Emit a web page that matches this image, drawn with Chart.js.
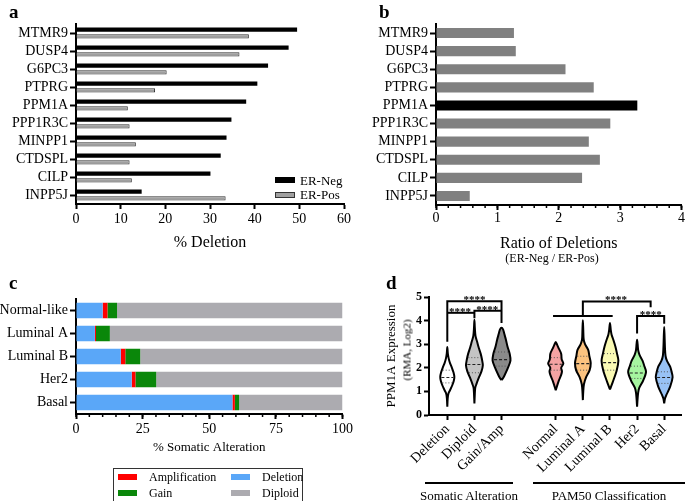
<!DOCTYPE html>
<html>
<head>
<meta charset="utf-8">
<script src="https://cdn.jsdelivr.net/npm/chart.js@4.4.1/dist/chart.umd.min.js"></script>
<style>
  body { margin: 0; background: #fff; }
  #wrap { position: relative; width: 685px; height: 501px; overflow: hidden; font-family: 'Liberation Serif', 'Times New Roman', serif; color: #000; }
  canvas { position: absolute; }
  .txt { position: absolute; white-space: nowrap; line-height: 1; }
  .letter { font-weight: bold; font-size: 19px; }
  .sw { position: absolute; }
</style>
</head>
<body>
<div id="wrap">
  <canvas id="chartA" width="355" height="256" style="left:0;top:0"></canvas>
  <canvas id="chartB" width="345" height="270" style="left:340px;top:0"></canvas>
  <canvas id="chartC" width="355" height="215" style="left:0;top:250px"></canvas>
  <canvas id="chartD" width="325" height="251" style="left:360px;top:250px"></canvas>

  <div class="txt letter" style="left:9px;top:2px">a</div>
  <div class="txt letter" style="left:379px;top:2px">b</div>
  <div class="txt letter" style="left:9px;top:273px">c</div>
  <div class="txt letter" style="left:386px;top:273px">d</div>

  <!-- legend a -->
  <div class="sw" style="left:275px;top:177px;width:20px;height:6px;background:#000"></div>
  <div class="txt" style="left:300px;top:174px;font-size:13px">ER-Neg</div>
  <div class="sw" style="left:275px;top:192px;width:18px;height:4px;background:#a0a0a0;border:1px solid #333"></div>
  <div class="txt" style="left:300px;top:188px;font-size:13px">ER-Pos</div>

  <!-- subtitle b -->
  <div class="txt" style="left:552px;top:252px;font-size:12px;transform:translateX(-50%)">(ER-Neg / ER-Pos)</div>

  <!-- legend c -->
  <div style="position:absolute;left:113px;top:468px;width:188px;height:34px;border:1px solid #333"></div>
  <div class="sw" style="left:118px;top:474px;width:19px;height:6px;background:#ff0000"></div>
  <div class="txt" style="left:149px;top:471px;font-size:12px">Amplification</div>
  <div class="sw" style="left:118px;top:490px;width:19px;height:6px;background:#0a870a"></div>
  <div class="txt" style="left:149px;top:487px;font-size:12px">Gain</div>
  <div class="sw" style="left:231px;top:474px;width:19px;height:6px;background:#5aa7f8"></div>
  <div class="txt" style="left:262px;top:471px;font-size:12px">Deletion</div>
  <div class="sw" style="left:231px;top:490px;width:19px;height:6px;background:#acabb0"></div>
  <div class="txt" style="left:262px;top:487px;font-size:12px">Diploid</div>

  <!-- panel d extras -->
  <div class="txt" style="left:407px;top:350px;font-size:11px;transform:translate(-50%,-50%) rotate(-90deg)">(RMA, Log2)</div>
  <div style="position:absolute;left:425px;top:482px;width:88px;border-top:2px solid #000"></div>
  <div class="txt" style="left:469px;top:489px;font-size:13px;transform:translateX(-50%)">Somatic Alteration</div>
  <div style="position:absolute;left:533px;top:482px;width:152px;border-top:2px solid #000"></div>
  <div class="txt" style="left:609px;top:489px;font-size:13px;transform:translateX(-50%)">PAM50 Classification</div>
</div>

<script>
// ---- data: panels a & b
const genes = ['MTMR9', 'DUSP4', 'G6PC3', 'PTPRG', 'PPM1A', 'PPP1R3C', 'MINPP1', 'CTDSPL', 'CILP', 'INPP5J'];
const erNeg = [49.5, 47.6, 43.0, 40.6, 38.1, 34.8, 33.7, 32.4, 30.1, 14.7];
const erPos = [38.7, 36.6, 20.3, 17.7, 11.6, 12.0, 13.4, 12.0, 12.5, 33.5];
const deletionRatio = [1.27, 1.30, 2.11, 2.57, 3.28, 2.84, 2.49, 2.67, 2.38, 0.55];
const highlightGene = 'PPM1A';

// ---- data: panel c
const subtypes = ['Normal-like', 'Luminal A', 'Luminal B', 'Her2', 'Basal'];
const pctDeletion = [10.0, 7.1, 16.8, 20.9, 58.7];
const pctAmplification = [1.8, 0.4, 1.7, 1.4, 0.9];
const pctGain = [3.6, 5.2, 5.6, 7.8, 1.6];
const pctDiploid = [84.6, 87.3, 75.9, 69.9, 38.8];

// ---- data: panel d (empty slot separates the two groupings)
const exprGroups = ['Deletion', 'Diploid', 'Gain/Amp', '', 'Normal', 'Luminal A', 'Luminal B', 'Her2', 'Basal'];
// violin outlines: [PPM1A log2 expression, half width], min to max
const violinDeletion = [[0.35, 0], [0.7, 0.015], [0.9, 0.04], [1.05, 0.1], [1.25, 0.18], [1.45, 0.24], [1.62, 0.26], [1.8, 0.23], [2.0, 0.17], [2.2, 0.1], [2.4, 0.05], [2.6, 0.02], [2.88, 0]];
const violinDiploid = [[0.49, 0], [0.9, 0.015], [1.15, 0.03], [1.3, 0.07], [1.6, 0.17], [1.85, 0.26], [2.1, 0.31], [2.35, 0.28], [2.6, 0.23], [2.85, 0.16], [3.1, 0.1], [3.35, 0.04], [3.7, 0.015], [4.04, 0]];
const violinGainAmp = [[1.48, 0], [1.55, 0.05], [1.65, 0.1], [1.95, 0.22], [2.3, 0.33], [2.6, 0.3], [2.9, 0.22], [3.2, 0.16], [3.45, 0.1], [3.62, 0.06], [3.7, 0]];
const violinNormal = [[1.05, 0], [1.2, 0.04], [1.45, 0.11], [1.7, 0.2], [1.85, 0.23], [2.0, 0.2], [2.18, 0.28], [2.35, 0.22], [2.6, 0.2], [2.8, 0.12], [2.95, 0.06], [3.09, 0]];
const violinLumA = [[0.63, 0], [1.0, 0.015], [1.3, 0.04], [1.6, 0.12], [1.9, 0.25], [2.2, 0.29], [2.5, 0.24], [2.75, 0.2], [3.0, 0.08], [3.2, 0.03], [3.6, 0.015], [4.01, 0]];
const violinLumB = [[1.08, 0], [1.2, 0.04], [1.45, 0.12], [1.9, 0.25], [2.3, 0.31], [2.6, 0.26], [2.9, 0.2], [3.2, 0.12], [3.4, 0.06], [3.6, 0.03], [3.9, 0]];
const violinHer2 = [[0.35, 0], [0.7, 0.02], [0.95, 0.04], [1.15, 0.08], [1.45, 0.22], [1.83, 0.33], [2.1, 0.26], [2.3, 0.2], [2.55, 0.09], [2.75, 0.04], [3.0, 0.02], [3.19, 0]];
const violinBasal = [[0.49, 0], [0.7, 0.03], [0.85, 0.08], [1.2, 0.22], [1.6, 0.31], [1.85, 0.27], [2.05, 0.22], [2.3, 0.1], [2.5, 0.05], [2.8, 0.03], [3.3, 0.015], [3.73, 0]];
const violins = [violinDeletion, violinDiploid, violinGainAmp, null, violinNormal, violinLumA, violinLumB, violinHer2, violinBasal];
const exprQ1 = [1.36, 1.79, 2.07, null, 1.90, 1.90, 1.90, 1.55, 1.34];
const exprMedian = [1.59, 2.14, 2.35, null, 2.15, 2.18, 2.22, 1.78, 1.59];
const exprQ3 = [1.90, 2.43, 2.67, null, 2.43, 2.49, 2.60, 2.07, 1.83];
const violinColors = ['#ffffff', '#c4c4c4', '#8a8a8a', null, '#f4a3a3', '#fbc27f', '#fafab4', '#a6f5a0', '#98c2f5'];
// significance brackets (x in group slots, y in log2 expression)
const sigBrackets = [
  [[0, 3.1], [0, 4.82], [2, 4.82], [2, 3.9]],
  [[0, 4.33], [1, 4.33]],
  [[1, 4.1], [1, 4.42], [2, 4.42]],
  [[3.9, 4.19], [6.1, 4.19]],
  [[5, 4.19], [5, 4.81], [7.5, 4.81], [7.5, 4.57]],
  [[7, 3.45], [7, 4.19], [8, 4.19], [8, 3.87]]
];
const sigStars = [[1, 4.82], [0.47, 4.33], [1.47, 4.42], [6.22, 4.81], [7.5, 4.19]];

Chart.defaults.font.family = "'Liberation Serif', 'Times New Roman', serif";
Chart.defaults.font.size = 14;
Chart.defaults.color = '#000';
Chart.defaults.animation = false;
Chart.defaults.responsive = false;
Chart.defaults.plugins.legend.display = false;
Chart.defaults.plugins.tooltip.enabled = false;

// short unlabeled ticks between the labelled ones
const minorTicks = {
  id: 'minorTicks',
  afterDraw(chart, args, opts) {
    const s = chart.scales.x, ctx = chart.ctx;
    const n = Math.round((s.max - s.min) / opts.step);
    ctx.save();
    ctx.strokeStyle = '#000';
    ctx.lineWidth = 1.5;
    for (let i = 0; i <= n; i++) {
      const px = s.getPixelForValue(s.min + i * opts.step);
      ctx.beginPath();
      ctx.moveTo(px, s.top);
      ctx.lineTo(px, s.top + opts.len);
      ctx.stroke();
    }
    ctx.restore();
  }
};

const starLabels = {
  id: 'starLabels',
  afterDatasetsDraw(chart) {
    const {ctx, scales: {x, y}} = chart;
    ctx.save();
    ctx.font = "bold 11px 'Liberation Serif'";
    ctx.textAlign = 'center';
    ctx.textBaseline = 'alphabetic';
    ctx.fillStyle = '#000';
    sigStars.forEach(([sx, sy]) => ctx.fillText('****', x.getPixelForValue(sx), y.getPixelForValue(sy) + 2));
    ctx.restore();
  }
};

const axisBorder = {color: '#000', width: 2};
function fixWidth(w) { return s => { s.width = w; }; }
function fixHeight(h) { return s => { s.height = h; }; }

// ---- a
new Chart(document.getElementById('chartA'), {
  type: 'bar',
  data: {
    labels: genes,
    datasets: [
      {label: 'ER-Neg', data: erNeg, backgroundColor: '#000', categoryPercentage: 0.75, barPercentage: 0.65},
      {label: 'ER-Pos', data: erPos, backgroundColor: '#a0a0a0', borderColor: '#333', borderWidth: 1, categoryPercentage: 0.75, barPercentage: 0.65}
    ]
  },
  options: {
    indexAxis: 'y',
    layout: {padding: {top: 24, right: 11}},
    scales: {
      x: {
        min: 0, max: 60,
        ticks: {stepSize: 10, padding: 2},
        grid: {drawOnChartArea: false, tickLength: 5, tickWidth: 2, tickColor: '#000'},
        border: axisBorder,
        title: {display: true, text: '% Deletion', font: {size: 16}, padding: {top: 0, bottom: 4}},
        afterFit: fixHeight(52)
      },
      y: {
        ticks: {padding: 2, autoSkip: false},
        grid: {drawOnChartArea: false, offset: false, tickLength: 6, tickWidth: 2, tickColor: '#000'},
        border: axisBorder,
        afterFit: fixWidth(76)
      }
    }
  }
});

// ---- b
new Chart(document.getElementById('chartB'), {
  type: 'bar',
  data: {
    labels: genes,
    datasets: [{
      label: 'Ratio of Deletions',
      data: deletionRatio,
      backgroundColor: genes.map(g => g === highlightGene ? '#000' : '#808080'),
      categoryPercentage: 1, barPercentage: 0.56
    }]
  },
  options: {
    indexAxis: 'y',
    layout: {padding: {top: 24, right: 3}},
    plugins: {minorTicks: {step: 0.2, len: 3}},
    scales: {
      x: {
        min: 0, max: 4,
        ticks: {stepSize: 1, padding: 0},
        grid: {drawOnChartArea: false, tickLength: 5, tickWidth: 2, tickColor: '#000'},
        border: axisBorder,
        title: {display: true, text: 'Ratio of Deletions', font: {size: 16}, padding: {top: 0, bottom: 17}},
        afterFit: fixHeight(65)
      },
      y: {
        ticks: {padding: 2, autoSkip: false},
        grid: {drawOnChartArea: false, offset: false, tickLength: 6, tickWidth: 2, tickColor: '#000'},
        border: axisBorder,
        afterFit: fixWidth(96)
      }
    }
  },
  plugins: [minorTicks]
});

// ---- c
new Chart(document.getElementById('chartC'), {
  type: 'bar',
  data: {
    labels: subtypes,
    datasets: [
      {label: 'Deletion', data: pctDeletion, backgroundColor: '#5aa7f8'},
      {label: 'Amplification', data: pctAmplification, backgroundColor: '#ff0000'},
      {label: 'Gain', data: pctGain, backgroundColor: '#0a870a'},
      {label: 'Diploid', data: pctDiploid, backgroundColor: '#acabb0'}
    ]
  },
  options: {
    indexAxis: 'y',
    datasets: {bar: {categoryPercentage: 1, barPercentage: 0.68}},
    layout: {padding: {top: 49, right: 11}},
    plugins: {minorTicks: {step: 5, len: 3}},
    scales: {
      x: {
        stacked: true, min: 0, max: 100,
        ticks: {stepSize: 25, padding: 2},
        grid: {drawOnChartArea: false, tickLength: 5, tickWidth: 2, tickColor: '#000'},
        border: axisBorder,
        title: {display: true, text: '% Somatic Alteration', font: {size: 13}, padding: {top: 0, bottom: 10}},
        afterFit: fixHeight(51)
      },
      y: {
        stacked: true,
        ticks: {padding: 2, autoSkip: false},
        grid: {drawOnChartArea: false, offset: false, tickLength: 6, tickWidth: 2, tickColor: '#000'},
        border: axisBorder,
        afterFit: fixWidth(76)
      }
    }
  },
  plugins: [minorTicks]
});

// ---- d
function halfWidthAt(prof, v) {
  for (let i = 1; i < prof.length; i++) {
    const [v0, w0] = prof[i - 1], [v1, w1] = prof[i];
    if (v >= v0 && v <= v1) return w0 + (w1 - w0) * (v - v0) / (v1 - v0);
  }
  return 0;
}
function outline(prof, pos) {
  const right = prof.map(([v, w]) => ({x: pos + w, y: v}));
  const left = prof.slice().reverse().map(([v, w]) => ({x: pos - w, y: v}));
  return right.concat(left.slice(1));
}
function hLine(prof, pos, v) {
  const w = halfWidthAt(prof, v) * 0.85;
  return [{x: pos - w, y: v}, {x: pos + w, y: v}];
}

const dDatasets = [];
sigBrackets.forEach(b => dDatasets.push({
  data: b.map(([x, y]) => ({x, y})), borderColor: '#000', borderWidth: 2, pointRadius: 0, fill: false, tension: 0
}));
violins.forEach((prof, i) => {
  if (!prof) return;
  dDatasets.push({data: hLine(prof, i, exprMedian[i]), borderColor: '#222', borderWidth: 1.2, borderDash: [3, 2], pointRadius: 0, fill: false, tension: 0});
  dDatasets.push({data: hLine(prof, i, exprQ1[i]), borderColor: '#555', borderWidth: 1, borderDash: [1, 2], pointRadius: 0, fill: false, tension: 0});
  dDatasets.push({data: hLine(prof, i, exprQ3[i]), borderColor: '#555', borderWidth: 1, borderDash: [1, 2], pointRadius: 0, fill: false, tension: 0});
});
violins.forEach((prof, i) => {
  if (!prof) return;
  dDatasets.push({
    label: exprGroups[i], data: outline(prof, i),
    borderColor: '#000', borderWidth: 2, backgroundColor: violinColors[i],
    fill: 'shape', pointRadius: 0, tension: 0.3
  });
});

new Chart(document.getElementById('chartD'), {
  type: 'line',
  data: {datasets: dDatasets},
  options: {
    layout: {padding: {top: 47, right: 4}},
    scales: {
      x: {
        type: 'linear', min: -0.675, max: 8.62,
        afterBuildTicks: s => { s.ticks = exprGroups.map((g, i) => ({value: i, g})).filter(t => t.g).map(t => ({value: t.value})); },
        ticks: {autoSkip: false, minRotation: 45, maxRotation: 45, padding: 1, font: {size: 14}, callback: v => exprGroups[v]},
        grid: {drawOnChartArea: false, tickLength: 5, tickWidth: 2, tickColor: '#000'},
        border: axisBorder,
        afterFit: fixHeight(86)
      },
      y: {
        min: 0, max: 5,
        ticks: {stepSize: 1, padding: 2, font: {size: 12, weight: 'bold'}},
        grid: {drawOnChartArea: false, tickLength: 5, tickWidth: 2, tickColor: '#000'},
        border: axisBorder,
        title: {display: true, text: 'PPM1A Expression', font: {size: 13}, padding: {top: 24, bottom: 0}},
        afterFit: fixWidth(69)
      }
    }
  },
  plugins: [starLabels]
});
</script>
</body>
</html>
